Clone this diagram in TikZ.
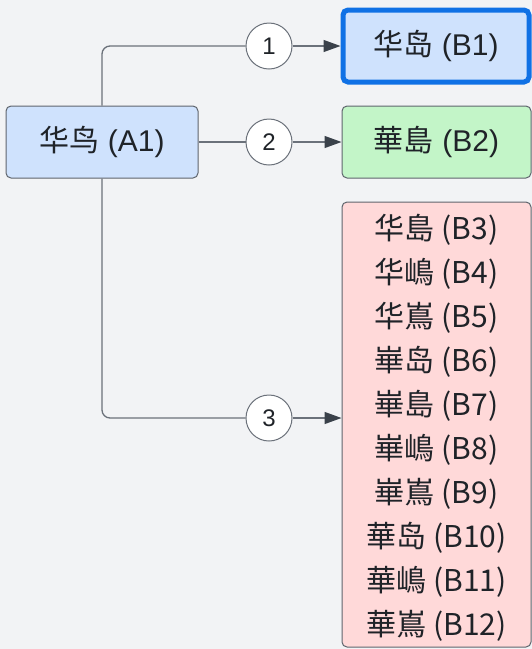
\documentclass[tikz,border=0pt]{standalone}
\usepackage{fontspec}
\setmainfont{Liberation Sans}
\newfontfamily\cjk{Noto Sans CJK SC}
\usetikzlibrary{arrows.meta}
\definecolor{bgc}{HTML}{F2F3F5}
\definecolor{bluef}{HTML}{CFE2FD}
\definecolor{greenf}{HTML}{C3F5C8}
\definecolor{pinkf}{HTML}{FFD9D9}
\definecolor{boxline}{HTML}{5F656D}
\definecolor{bluel}{HTML}{1071E5}
\definecolor{conn}{HTML}{6B717A}
\definecolor{arrowc}{HTML}{3A414A}
\definecolor{txt}{HTML}{1F2328}
\newcommand\zh[1]{{\cjk #1}}
\tikzset{
  box/.style={draw=boxline, line width=1pt, rounded corners=5pt, inner sep=0pt,
    text=txt, font=\fontsize{30}{36}\selectfont},
  numc/.style={circle, draw=conn, fill=white, line width=1pt, minimum size=46pt,
    inner sep=0pt, text=txt, font=\fontsize{24}{28}\selectfont},
  conline/.style={draw=conn, line width=1.3pt},
  arr/.style={conline, -{Triangle[length=17pt,width=12pt,color=arrowc]}},
  ltxt/.style={text=txt, font=\fontsize{30}{36}\selectfont, inner sep=0pt}
}
\begin{document}
\begin{tikzpicture}[x=1pt,y=-1pt]
\fill[bgc] (0,0) rectangle (532,649);
\useasboundingbox (0,0) rectangle (532,649);
\node[box, fill=bluef, minimum width=192pt, minimum height=72pt] (A1) at (102,142) {\zh{华鸟} (A1)};
\node[box, fill=bluef, draw=bluel, line width=5pt, minimum width=186pt, minimum height=72pt] (B1) at (436,46) {\zh{华岛} (B1)};
\node[box, fill=greenf, minimum width=189pt, minimum height=72pt] (B2) at (436.5,142) {\zh{華島} (B2)};
\node[box, fill=pinkf, minimum width=189pt, minimum height=445pt] (B3) at (436.5,424.5) {};
\foreach \t [count=\i from 0] in {华島 (B3),华嶋 (B4),华嶌 (B5),崋岛 (B6),崋島 (B7),崋嶋 (B8),崋嶌 (B9),華岛 (B10),華嶋 (B11),華嶌 (B12)}{
  \node[ltxt] (t\i) at (436.5,230+44*\i) {\cjk\t};
}
\node[numc] (c1) at (269,46) {1};
\node[numc] (c2) at (269,142) {2};
\node[numc] (c3) at (269,418) {3};
\draw[conline, rounded corners=8pt] (A1.north) |- (c1.west);
\draw[arr] (c1.east) -- (B1.west);
\draw[conline] (A1.east) -- (c2.west);
\draw[arr] (c2.east) -- (B2.west);
\draw[conline, rounded corners=8pt] (A1.south) |- (c3.west);
\draw[arr] (c3.east) -- (c3.east -| B3.west);
\end{tikzpicture}
\end{document}
